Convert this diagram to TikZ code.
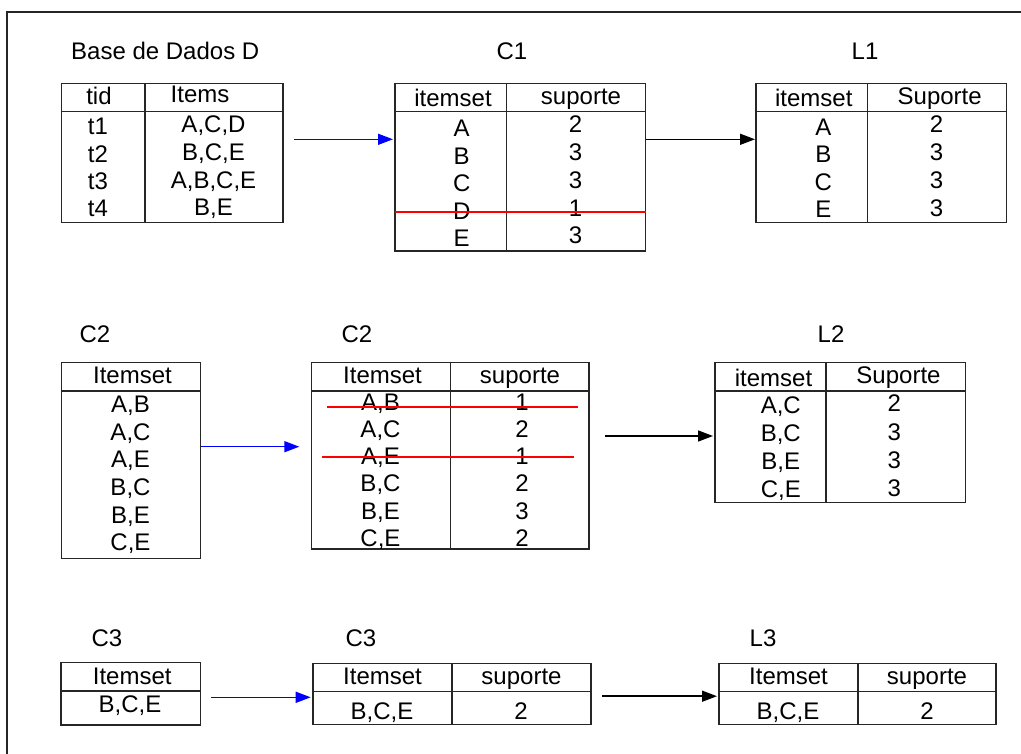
\documentclass[tikz,border=0pt]{standalone}
\usepackage{fontspec}
\setmainfont{Liberation Sans}
\usetikzlibrary{arrows.meta}
\definecolor{strikered}{RGB}{255,0,0}
\begin{document}
\begin{tikzpicture}[x=1pt,y=-1pt,
  tbl/.style={draw=black!85, line width=1.4pt, inner sep=0pt, outer sep=0pt, anchor=north west},
  rule/.style={draw=black!85, line width=1.4pt},
  txt/.style={font=\fontsize{24}{28}\selectfont, inner sep=0pt, anchor=base},
  strikeline/.style={draw=strikered, line width=2pt},
  barrow/.style={draw=blue, line width=1.5pt, -{Triangle[length=15pt,width=11pt]}},
  karrow/.style={draw=black, line width=1.5pt, -{Triangle[length=15pt,width=11pt]}}
]
\useasboundingbox (0,0) rectangle (1021,754);
\draw[rule] (7,754) -- (7,12) -- (1021,12);

% ---------- labels ----------
\node[txt, anchor=base west] (lD) at (71,60) {Base de Dados D};
\node[txt] (lC1) at (512,60) {C1};
\node[txt] (lL1) at (865,60) {L1};
\node[txt] (lC2a) at (95,343) {C2};
\node[txt] (lC2b) at (357,343) {C2};
\node[txt] (lL2) at (831,343) {L2};
\node[txt] (lC3a) at (107,646) {C3};
\node[txt] (lC3b) at (361,646) {C3};
\node[txt] (lL3) at (763,646) {L3};

% ---------- table D ----------
\node[tbl, minimum width=221.3pt, minimum height=139.4pt] (D) at (61.7,83.3) {};
\draw[rule] (D.west |- 0,111.7) -- (D.east |- 0,111.7);
\draw[rule] (145,0 |- D.north) -- (145,0 |- D.south);
\node[txt] (D-h1) at (99,105) {tid};
\node[txt] (D-h2) at (200,103) {Items};
\foreach \t [count=\i] in {t1,t2,t3,t4}
  \node[txt] (D-a\i) at (98,{135+27.2*(\i-1)}) {\t};
\foreach \t [count=\i] in {{A,C,D},{B,C,E},{A,B,C,E},{B,E}}
  \node[txt] (D-b\i) at (213.5,{132.7+27.7*(\i-1)}) {\t};

% ---------- table C1 ----------
\node[tbl, minimum width=250.7pt, minimum height=167.7pt] (C1) at (395,83.3) {};
\draw[rule] (C1.west |- 0,111.7) -- (C1.east |- 0,111.7);
\draw[rule] (506.7,0 |- C1.north) -- (506.7,0 |- C1.south);
\node[txt] (C1-h1) at (453,106.7) {itemset};
\node[txt] (C1-h2) at (581,104.3) {suporte};
\foreach \t [count=\i] in {A,B,C,D,E}
  \node[txt] (C1-a\i) at (461.7,{136.7+27.5*(\i-1)}) {\t};
\foreach \t [count=\i] in {2,3,3,1,3}
  \node[txt] (C1-b\i) at (575.5,{132.7+27.8*(\i-1)}) {\t};

% ---------- table L1 ----------
\node[tbl, minimum width=250.7pt, minimum height=139.4pt] (L1) at (756,83.3) {};
\draw[rule] (L1.west |- 0,111.7) -- (L1.east |- 0,111.7);
\draw[rule] (867.7,0 |- L1.north) -- (867.7,0 |- L1.south);
\node[txt] (L1-h1) at (813.8,106.7) {itemset};
\node[txt] (L1-h2) at (939.7,104.3) {Suporte};
\foreach \t [count=\i] in {A,B,C,E}
  \node[txt] (L1-a\i) at (823.3,{135.7+27.3*(\i-1)}) {\t};
\foreach \t [count=\i] in {2,3,3,3}
  \node[txt] (L1-b\i) at (936.5,{132.7+28*(\i-1)}) {\t};

% ---------- table C2 (left) ----------
\node[tbl, minimum width=139pt, minimum height=195.6pt] (C2a) at (61.7,362.7) {};
\draw[rule] (C2a.west |- 0,391) -- (C2a.east |- 0,391);
\node[txt] (C2a-h1) at (132.5,383.3) {Itemset};
\foreach \t [count=\i] in {{A,B},{A,C},{A,E},{B,C},{B,E},{C,E}}
  \node[txt] (C2a-a\i) at (130.5,{412.7+27.6*(\i-1)}) {\t};

% ---------- table C2 (middle) ----------
\node[tbl, minimum width=277.3pt, minimum height=186.3pt] (C2b) at (311.7,362.7) {};
\draw[rule] (C2b.west |- 0,391) -- (C2b.east |- 0,391);
\draw[rule] (450.7,0 |- C2b.north) -- (450.7,0 |- C2b.south);
\node[txt] (C2b-h1) at (382.5,383.3) {Itemset};
\node[txt] (C2b-h2) at (520,383.3) {suporte};
\foreach \t [count=\i] in {{A,B},{A,C},{A,E},{B,C},{B,E},{C,E}}
  \node[txt] (C2b-a\i) at (380.5,{410+27.3*(\i-1)}) {\t};
\foreach \t [count=\i] in {1,2,1,2,3,2}
  \node[txt] (C2b-b\i) at (522,{410+27.3*(\i-1)}) {\t};

% ---------- table L2 ----------
\node[tbl, minimum width=250.7pt, minimum height=139.6pt] (L2) at (715,362.7) {};
\draw[rule] (L2.west |- 0,391) -- (L2.east |- 0,391);
\draw[rule] (826,0 |- L2.north) -- (826,0 |- L2.south);
\node[txt] (L2-h1) at (773.5,386) {itemset};
\node[txt] (L2-h2) at (898.5,383.3) {Suporte};
\foreach \t [count=\i] in {{A,C},{B,C},{B,E},{C,E}}
  \node[txt] (L2-a\i) at (780.8,{413.3+28*(\i-1)}) {\t};
\foreach \t [count=\i] in {2,3,3,3}
  \node[txt] (L2-b\i) at (894.2,{411.7+28.3*(\i-1)}) {\t};

% ---------- table C3 (left) ----------
\node[tbl, minimum width=139.3pt, minimum height=62.3pt] (C3a) at (61,662.7) {};
\draw[rule] (C3a.west |- 0,691) -- (C3a.east |- 0,691);
\node[txt] (C3a-h1) at (132.2,684) {Itemset};
\node[txt] (C3a-a1) at (130,712.7) {B,C,E};

% ---------- table C3 (middle) ----------
\node[tbl, minimum width=278pt, minimum height=61pt] (C3b) at (313,663.5) {};
\draw[rule] (C3b.west |- 0,691.5) -- (C3b.east |- 0,691.5);
\draw[rule] (452,0 |- C3b.north) -- (452,0 |- C3b.south);
\node[txt] (C3b-h1) at (382.5,684.5) {Itemset};
\node[txt] (C3b-h2) at (521.5,684.5) {suporte};
\node[txt] (C3b-a1) at (382,719) {B,C,E};
\node[txt] (C3b-b1) at (521,719) {2};

% ---------- table L3 ----------
\node[tbl, minimum width=277pt, minimum height=61pt] (L3) at (719,663.3) {};
\draw[rule] (L3.west |- 0,691.7) -- (L3.east |- 0,691.7);
\draw[rule] (858,0 |- L3.north) -- (858,0 |- L3.south);
\node[txt] (L3-h1) at (788.5,684.5) {Itemset};
\node[txt] (L3-h2) at (927,684.5) {suporte};
\node[txt] (L3-a1) at (788,719) {B,C,E};
\node[txt] (L3-b1) at (927,719) {2};

% ---------- arrows ----------
\draw[barrow, shorten <=11pt, shorten >=2pt] (D.east |- 0,139.3) -- (C1.west |- 0,139.3);
\draw[karrow, shorten >=1pt] (C1.east |- 0,139.3) -- (L1.west |- 0,139.3);
\draw[barrow, shorten >=12.4pt] (C2a.east |- 0,446.7) -- (C2b.west |- 0,446.7);
\draw[karrow, shorten <=16pt, shorten >=2pt] (C2b.east |- 0,436) -- (L2.west |- 0,436);
\draw[barrow, shorten <=10.7pt, shorten >=2.3pt] (C3a.east |- 0,697.3) -- (C3b.west |- 0,697.3);
\draw[karrow, shorten <=11pt, shorten >=2pt] (C3b.east |- 0,696.2) -- (L3.west |- 0,696.2);

% ---------- strike-through lines ----------
\draw[strikeline] (C1.west |- 0,212) -- (C1.east |- 0,212);
\draw[strikeline] ([xshift=15.6pt]C2b.west |- 0,407) -- ([xshift=-10.7pt]C2b.east |- 0,407);
\draw[strikeline] ([xshift=10pt]C2b.west |- 0,457) -- ([xshift=-15pt]C2b.east |- 0,457);
\end{tikzpicture}
\end{document}
